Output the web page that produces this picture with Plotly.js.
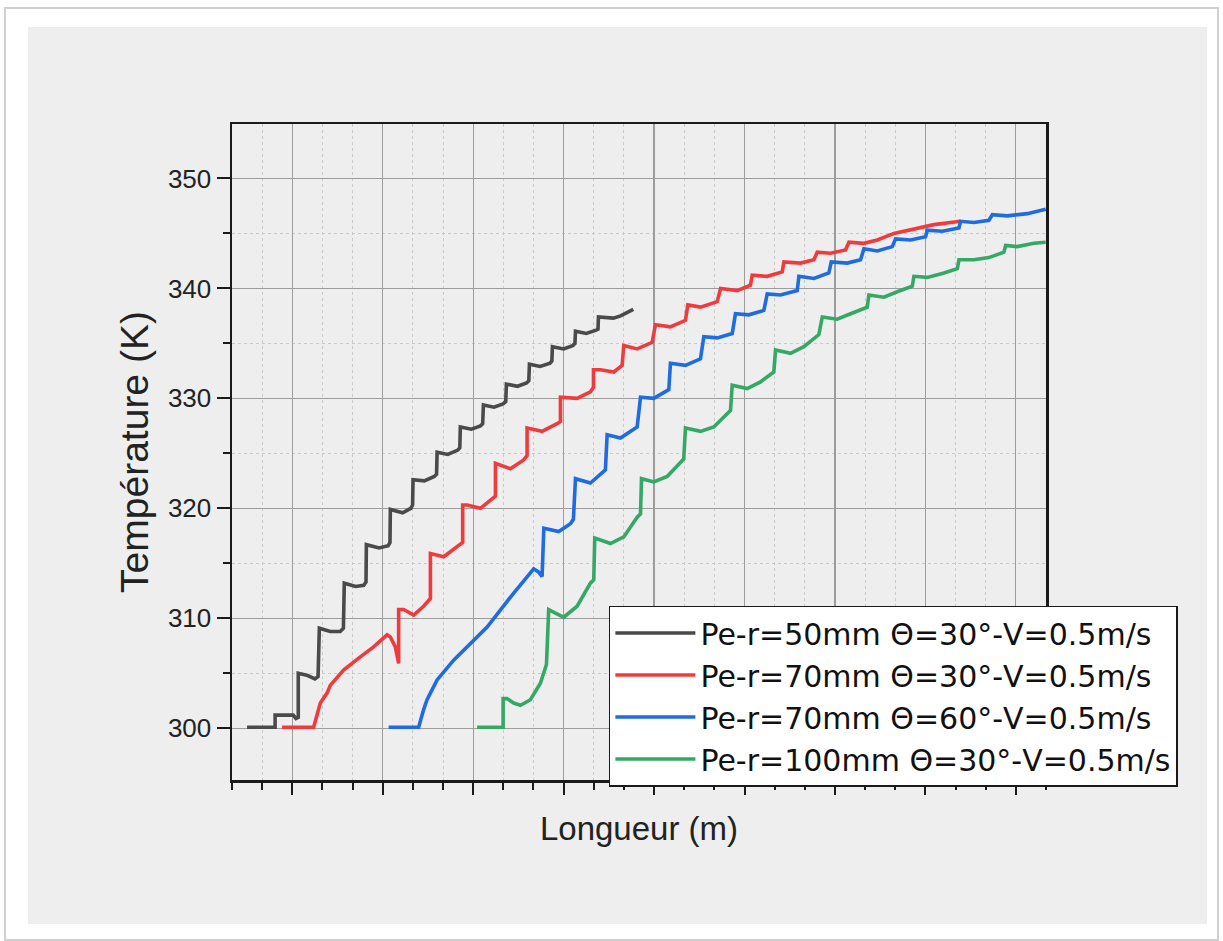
<!DOCTYPE html>
<html>
<head>
<meta charset="utf-8">
<script src="https://cdn.plot.ly/plotly-3.0.1.min.js"></script>
<style>html,body{margin:0;padding:0;background:#fff;}#chart{width:1223px;height:941px;}</style>
</head>
<body>
<div id="chart"></div>
<script>
// Series names
const seriesNames = [
  "Pe-r=50mm \u0398=30\u00b0-V=0.5m/s",
  "Pe-r=70mm \u0398=30\u00b0-V=0.5m/s",
  "Pe-r=70mm \u0398=60\u00b0-V=0.5m/s",
  "Pe-r=100mm \u0398=30\u00b0-V=0.5m/s"
];
const seriesColors = ["#4a4a4a", "#ef3b3e", "#1f6be0", "#35a866"];

// Longueur (axis units, labels hidden) and Température (K)
const blackX = [-0.50,-0.19,-0.19,0.01,0.04,0.066,0.066,0.17,0.25,0.285,0.299,0.42,0.53,0.565,0.575,0.70,0.79,0.815,0.819,0.96,1.06,1.08,1.084,1.22,1.31,1.33,1.335,1.46,1.57,1.595,1.601,1.72,1.83,1.852,1.858,1.98,2.08,2.105,2.113,2.23,2.33,2.36,2.367,2.49,2.59,2.615,2.622,2.74,2.85,2.87,2.876,3.00,3.10,3.125,3.131,3.25,3.36,3.38,3.385,3.55,3.63,3.77];
const blackY = [300.1,300.1,301.2,301.2,300.9,301.0,305.0,304.8,304.5,304.7,309.1,308.8,308.8,309.1,313.2,312.9,313.0,313.3,316.7,316.4,316.6,316.9,319.9,319.6,320.0,320.3,322.6,322.5,322.9,323.1,325.1,324.9,325.3,325.5,327.4,327.2,327.5,327.7,329.4,329.2,329.5,329.7,331.3,331.1,331.4,331.6,333.1,332.9,333.2,333.4,334.7,334.5,334.8,335.0,336.1,335.9,336.2,336.3,337.4,337.3,337.5,338.1];

const redX = [-0.114,0.236,0.310,0.384,0.420,0.49,0.567,0.752,0.899,1.048,1.084,1.139,1.176,1.176,1.231,1.342,1.452,1.527,1.527,1.674,1.858,1.884,1.884,1.933,2.080,2.246,2.246,2.412,2.558,2.596,2.596,2.762,2.928,2.965,2.965,3.149,3.296,3.330,3.330,3.407,3.555,3.647,3.665,3.813,3.979,4.015,4.181,4.347,4.373,4.513,4.698,4.735,4.919,5.066,5.085,5.251,5.417,5.435,5.619,5.767,5.804,5.951,6.117,6.154,6.320,6.468,6.652,6.873,7.094,7.389];
const redY = [300.1,300.1,302.3,303.2,303.9,304.6,305.3,306.5,307.4,308.5,308.3,307.4,305.9,310.8,310.8,310.3,311.1,311.8,315.9,315.6,316.7,316.9,320.3,320.3,320.0,321.1,324.1,323.6,324.4,324.8,327.3,327.0,327.7,327.9,330.1,330.0,330.6,331.0,332.6,332.6,332.4,333.0,334.8,334.5,335.1,336.7,336.5,337.1,338.5,338.3,338.8,340.0,339.8,340.3,341.2,341.1,341.5,342.4,342.3,342.6,343.3,343.2,343.5,344.2,344.1,344.4,345.0,345.4,345.8,346.1];

const blueX = [1.065,1.397,1.452,1.490,1.527,1.601,1.784,1.969,2.154,2.448,2.669,2.725,2.762,2.781,2.946,3.075,3.108,3.131,3.296,3.462,3.481,3.628,3.813,3.850,3.997,4.163,4.181,4.347,4.513,4.550,4.698,4.864,4.900,5.047,5.214,5.251,5.398,5.583,5.601,5.767,5.932,5.959,6.136,6.283,6.320,6.468,6.634,6.670,6.836,7.002,7.021,7.187,7.371,7.389,7.536,7.702,7.740,7.906,8.127,8.330];
const blueY = [300.1,300.1,301.7,302.6,303.2,304.4,306.2,307.7,309.2,312.3,314.5,314.2,313.8,318.2,317.9,318.6,319.0,322.7,322.3,323.5,326.7,326.4,327.4,330.1,330.0,330.8,333.2,333.0,333.6,335.6,335.5,335.9,337.7,337.6,338.0,339.5,339.4,339.8,341.1,340.9,341.4,342.4,342.3,342.6,343.6,343.4,343.8,344.5,344.4,344.7,345.3,345.2,345.5,346.1,346.0,346.2,346.7,346.6,346.8,347.2];

const greenX = [2.043,2.331,2.331,2.375,2.448,2.522,2.633,2.743,2.810,2.835,3.001,3.149,3.296,3.333,3.344,3.518,3.665,3.813,3.850,3.861,3.997,4.145,4.328,4.347,4.513,4.660,4.808,4.845,4.864,5.030,5.177,5.324,5.343,5.509,5.656,5.822,5.860,6.025,6.173,6.357,6.375,6.541,6.689,6.855,6.873,7.021,7.205,7.353,7.371,7.536,7.702,7.868,7.887,8.016,8.200,8.330];
const greenY = [300.1,300.1,302.7,302.7,302.3,302.1,302.6,304.1,305.8,310.8,310.1,311.1,313.2,313.5,317.3,316.8,317.4,319.2,319.5,322.7,322.4,322.9,324.5,327.3,327.0,327.4,328.6,328.9,331.2,330.9,331.5,332.4,334.4,334.1,334.7,335.8,337.4,337.2,337.7,338.3,339.4,339.2,339.7,340.2,341.1,341.0,341.4,341.8,342.6,342.6,342.8,343.3,343.9,343.8,344.1,344.2];

// Axis ticks
const yTickVals = [300, 310, 320, 330, 340, 350];
const yTickText = ["300", "310", "320", "330", "340", "350"];
const xMajorTicks = [0, 1, 2, 3, 4, 5, 6, 7, 8];

const xs = [blackX, redX, blueX, greenX];
const ys = [blackY, redY, blueY, greenY];

const traces = xs.map((x, i) => ({
  x: x, y: ys[i], type: "scatter", mode: "lines", name: seriesNames[i],
  line: {color: seriesColors[i], width: 3.6}
}));

const FONT = "Liberation Sans, Arial, sans-serif";
const LEGFONT = "DejaVu Sans, Liberation Sans, sans-serif";

const layout = {
  width: 1223, height: 941,
  margin: {l: 232, r: 177, t: 124, b: 161},
  paper_bgcolor: "#ffffff",
  plot_bgcolor: "rgba(0,0,0,0)",
  font: {family: FONT, color: "#222"},
  showlegend: true,
  xaxis: {
    range: [-2/3, 25/3],
    tickmode: "array", tickvals: xMajorTicks, showticklabels: false,
    ticks: "outside", ticklen: 12, tickwidth: 2, tickcolor: "#1a1a1a",
    showgrid: true, gridcolor: "#9c9c9c", gridwidth: 1.2,
    minor: {tick0: 0, dtick: 1/3, ticks: "outside", ticklen: 7, tickwidth: 2, tickcolor: "#1a1a1a",
            showgrid: true, gridcolor: "#c9c9c9", griddash: "dot", gridwidth: 1},
    showline: true, linewidth: 2.5, linecolor: "#1a1a1a", mirror: true, zeroline: false,
    title: {text: "Longueur (m)", font: {size: 33, family: FONT, color: "#222"}, standoff: 24}
  },
  yaxis: {
    range: [295.3, 354.95],
    tickmode: "array", tickvals: yTickVals, ticktext: yTickText,
    tickfont: {size: 26, family: FONT, color: "#222"},
    ticks: "outside", ticklen: 13, tickwidth: 2, tickcolor: "#1a1a1a",
    showgrid: true, gridcolor: "#9c9c9c", gridwidth: 1.2,
    minor: {tick0: 300, dtick: 5, ticks: "outside", ticklen: 7, tickwidth: 2, tickcolor: "#1a1a1a",
            showgrid: true, gridcolor: "#c9c9c9", griddash: "dot", gridwidth: 1},
    showline: true, linewidth: 2.5, linecolor: "#1a1a1a", mirror: true, zeroline: false,
    title: {text: "Température (K)", font: {size: 39, family: FONT, color: "#222"}, standoff: 8}
  },
  legend: {
    x: 0.463, y: 0.266, xanchor: "left", yanchor: "top",
    bgcolor: "#ffffff", bordercolor: "#1a1a1a", borderwidth: 1.5,
    font: {size: 30, family: LEGFONT, color: "#111"},
    itemwidth: 80, tracegroupgap: 0
  },
  shapes: [
    {type: "rect", xref: "paper", yref: "paper", x0: -0.2789, x1: 1.2113, y0: -0.2439, y1: 1.1768,
     line: {color: "#cfcfcf", width: 2}, fillcolor: "#ffffff", layer: "below"},
    {type: "rect", xref: "paper", yref: "paper", x0: -0.2506, x1: 1.1978, y0: -0.2195, y1: 1.1479,
     line: {width: 0}, fillcolor: "#eeeeee", layer: "below"}
  ]
};

Plotly.newPlot("chart", traces, layout, {displayModeBar: false, staticPlot: true});
</script>
</body>
</html>
